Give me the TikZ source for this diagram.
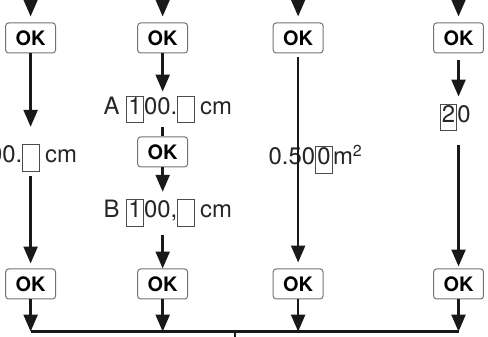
\documentclass[tikz,border=0pt]{standalone}
\usepackage{fontspec}
\setmainfont{TeX Gyre Heros}
\usetikzlibrary{arrows.meta}
% boxed digit on the display
\newcommand\digbox[1]{{\setlength\fboxsep{0pt}\setlength\fboxrule{0.5pt}\color{black!70}\fbox{\color{black!85}\makebox[8pt]{\rule[-4pt]{0pt}{13pt}#1}}}}
\begin{document}
\begin{tikzpicture}[line join=round, >={Triangle[width=7pt,length=8.5pt]},
	okbox/.style={draw=black!55, line width=0.5pt, rounded corners=1.5pt, fill=white,
		minimum width=0.88cm, minimum height=0.53cm, inner sep=0pt,
		font=\fontsize{10}{11}\selectfont\bfseries},
	val/.style={inner sep=0pt, outer sep=2pt, font=\fontsize{12}{14}\selectfont, text=black!85},
	flow/.style={line width=1.2pt, black!90}]
	\useasboundingbox (0,0) rectangle (8.61,5.94);
	% Columns
	\def\xa{0.54}
	\def\xb{2.87}
	\def\xc{5.26}
	\def\xd{8.09}
	% Rows
	\def\ytop{5.27}
	\def\ybot{0.93}
	\def\yline{0.09}
	% OK keys on top
	\node[okbox] (ok1t) at (\xa,\ytop) {OK};
	\node[okbox] (ok2t) at (\xb,\ytop) {OK};
	\node[okbox] (ok3t) at (\xc,\ytop) {OK};
	\node[okbox] (ok4t) at (\xd,\ytop) {OK};
	% OK key between A and B
	\node[okbox] (ok2m) at (\xb,3.26) {OK};
	% OK keys at the bottom
	\node[okbox] (ok1b) at (\xa,\ybot) {OK};
	\node[okbox] (ok2b) at (\xb,\ybot) {OK};
	\node[okbox] (ok3b) at (\xc,\ybot) {OK};
	\node[okbox] (ok4b) at (\xd,\ybot) {OK};
	% Display values
	\node[val, anchor=base east] (v1) at (1.43,3.07) {00.\digbox{}\hspace{2.5pt}cm};
	\node[val, anchor=base] (v2a) at (2.96,3.92) {A \digbox{1}00.\digbox{}\hspace{2.5pt}cm};
	\node[val, anchor=base] (v2b) at (2.96,2.10) {B \digbox{1}00,\digbox{}\hspace{2.5pt}cm};
	\node[val, anchor=base] (v3) at (5.57,3.03) {0.50\digbox{0}m\textsuperscript{2}};
	\node[val, anchor=base] (v4) at (8.03,3.78) {\digbox{2}0};
	% Arrows coming in from above
	\coordinate (top) at (0,6.1);
	\foreach \k in {ok1t,ok2t,ok3t,ok4t}
		\draw[flow,->,shorten >=3pt] (\k |- top) -- (\k);
	% Column 1
	\draw[flow,->,shorten >=6.5pt] (ok1t) -- (ok1t |- v1.north);
	\draw[flow,->,shorten >=2.5pt] (v1.south -| ok1t) -- (ok1b);
	% Column 2
	\draw[flow,->] (ok2t) -- (ok2t |- v2a.north);
	\draw[flow] (v2a.south -| ok2t) -- (ok2m);
	\draw[flow,->,shorten >=1.5pt] (ok2m) -- (ok2m |- v2b.north);
	\draw[flow,->,shorten <=2pt] (v2b.south -| ok2m) -- (ok2b);
	% Column 3
	\draw[flow,->,shorten <=2pt,shorten >=3pt] (ok3t) -- (ok3b);
	% Column 4
	\draw[flow,->,shorten <=3.5pt,shorten >=1.5pt] (ok4t) -- (ok4t |- v4.north);
	\draw[flow,->,shorten <=5pt,shorten >=1pt] (v4.south -| ok4t) -- (ok4b);
	% Common line at the bottom
	\coordinate (bus) at (0,\yline);
	\foreach \k in {ok1b,ok2b,ok3b,ok4b}
		\draw[flow,->] (\k) -- (\k |- bus);
	\draw[flow] (ok1b |- bus) -- (ok4b |- bus);
	\coordinate (mid) at (4.15,\yline);
	\coordinate (out) at (4.15,-0.2);
	\draw[flow] (mid) -- (out);
\end{tikzpicture}
\end{document}
